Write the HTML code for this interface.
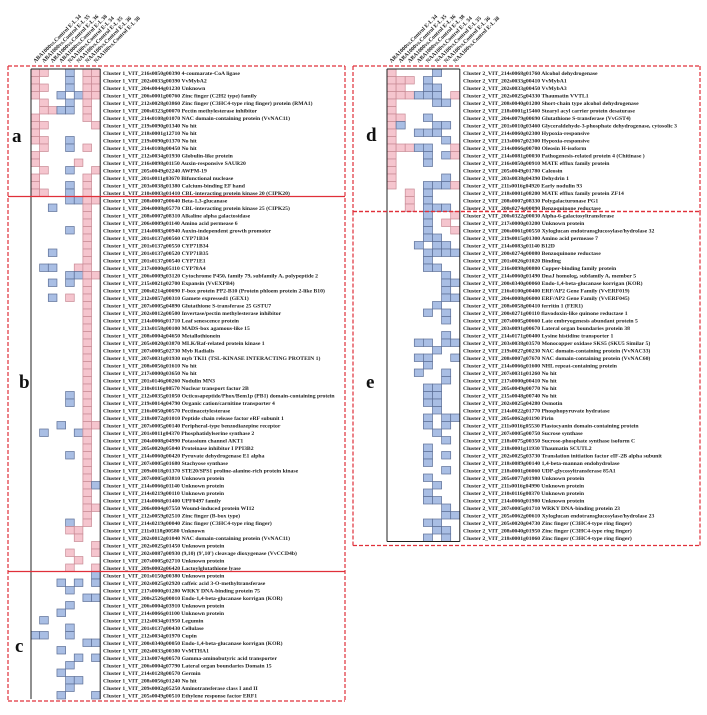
<!DOCTYPE html>
<html><head><meta charset="utf-8"><style>
body{margin:0;background:#fff;width:707px;height:710px;overflow:hidden}
svg text{font-family:"Liberation Serif",serif}
</style></head><body>
<svg id="fig" width="707" height="710" viewBox="0 0 707 710" xmlns="http://www.w3.org/2000/svg"></svg>
<script>
const columns=["ABA1000vs.Control E-L 34","ABA1000vs.Control E-L 35","ABA1000vs.Control E-L 36","ABA1000vs.Control E-L 38","NAA100vs.Control E-L 34","NAA100vs.Control E-L 35","NAA100vs.Control E-L 36","NAA100vs.Control E-L 38"];
const sectionNames=["a","b","c","d","e"];
const aGenes=["216s0050g00390 4-coumarate-CoA ligase","202s0033g00390 VvMybA2","204s0044g01230 Unknown","206s0001g00760 Zinc finger (C2H2 type) family","212s0028g03860 Zinc finger (C3HC4-type ring finger) protein (RMA1)","200s0323g00070 Pectin methylesterase inhibitor","214s0108g01070 NAC domain-containing protein (VvNAC11)","219s0090g01340 No hit","218s0001g12710 No hit","219s0090g01370 No hit","214s0108g00450 No hit","212s0034g01930 Globulin-like protein","216s0098g01150 Auxin-responsive SAUR20","205s0049g02240 AWPM-19","201s0011g03670 Bifunctional nuclease","203s0038g01380 Calcium-binding EF hand","210s0003g01410 CBL-interacting protein kinase 20 (CIPK20)"];
const aVals=["pp..b.pp","p...b.pp","pp..b.pp","p..b.bpp",".p..b.p.",".ppbb.p.","p.....p.","pp.....p","p.......","pp..b...",".p..b.p.","p.......","p....p..",".p..b..p","p.....p.","p...b.p.","pp..b.p."];
const bGenes=["208s0007g00640 Beta-1,3-glucanase","204s0008g05770 CBL-interacting protein kinase 25 (CIPK25)","208s0007g08310 Alkaline alpha galactosidase","206s0009g01140 Amino acid permease 6","214s0083g00940 Auxin-independent growth promoter","201s0137g00560 CYP71B34","201s0137g00550 CYP71B34","201s0137g00520 CYP71B35","201s0137g00540 CYP71E1","217s0000g05110 CYP78A4","206s0009g03120 Cytochrome P450, family 79, subfamily A, polypeptide 2","215s0021g02700 Expansin (VvEXPB4)","200s0214g00090 F-box protein PP2-B10 (Protein phloem protein 2-like B10)","212s0057g00310 Gamete expressed1 (GEX1)","207s0005g04890 Glutathione S-transferase 25 GSTU7","202s0012g00500 Invertase/pectin methylesterase inhibitor","214s0066g01710 Leaf senescence protein","213s0158g00100 MADS-box agamous-like 15","208s0004g04650 Metallothionein","205s0020g03870 MLK/Raf-related protein kinase 1","207s0005g02730 Myb Radialis","207s0031g01930 myb TKI1 (TSL-KINASE INTERACTING PROTEIN 1)","208s0056g01610 No hit","217s0000g03650 No hit","201s0146g00260 Nodulin MN3","210s0116g00570 Nuclear transport factor 2B","212s0035g01050 Octicosapeptide/Phox/Bem1p (PB1) domain-containing protein","219s0014g04790 Organic cation/carnitine transporter 4","216s0050g00570 Pectinacetylesterase","218s0072g01010 Peptide chain release factor eRF subunit 1","207s0005g00140 Peripheral-type benzodiazepine receptor","201s0011g04370 Phosphatidylserine synthase 2","204s0008g04990 Potassium channel AKT1","205s0020g05040 Proteinase inhibitor I PPI3B2","214s0060g00420 Pyruvate dehydrogenase E1 alpha","207s0005g01680 Stachyose synthase","209s0018g01370 STE20/SPS1 proline-alanine-rich protein kinase","207s0005g03810 Unknown protein","214s0066g01140 Unknown protein","214s0219g00110 Unknown protein","214s0068g01400 UPF0497 family","206s0004g07550 Wound-induced protein WI12","212s0059g02510 Zinc finger (B-box type)","214s0219g00040 Zinc finger (C3HC4-type ring finger)","211s0118g00580 Unknown","202s0012g01040 NAC domain-containing protein (VvNAC11)","202s0025g01450 Unknown protein","202s0087g00930 (9,10) (9',10') cleavage dioxygenase (VvCCD4b)","207s0005g02710 Unknown protein","209s0002g06420 Lactoylglutathione lyase"];
const bVals=["....bbpp","..b...p.","......p.","......p.","....b.p.","......p.","......p.","..b...p.","......p.",".bb..pp.","....bbpp","..b.b.p.","......p.","..b.p.p.","......p.","......p.","......p.","......p.","......p.","......p.","......p.","......p.","......p.","......p.","......p.","......p.","....b.p.","....b.p.","......p.","......p.","...b..pp",".b...bp.","......p.","......p.","....b.p.","......p.","......p.","......p.","......pb","......p.","......p.","......pp","......p.","....b.p.","....pp..",".....p..",".......p","....p..p",".....p..","....p..p"];
const cGenes=["201s0150g00380 Unknown protein","202s0025g02920 caffeic acid 3-O-methyltransferase","217s0000g01280 WRKY DNA-binding protein 75","200s2526g00010 Endo-1,4-beta-glucanase korrigan (KOR)","206s0004g03910 Unknown protein","214s0066g01100 Unknown protein","212s0034g01950 Legumin","201s0137g00430 Cellulase","212s0034g01970 Cupin","200s0340g00050 Endo-1,4-beta-glucanase korrigan (KOR)","202s0033g00380 VvMTHA1","213s0074g00570 Gamma-aminobutyric acid transporter","206s0004g07790 Lateral organ boundaries Domain 15","214s0128g00570 Germin","208s0056g01240 No hit","209s0002g05250 Aminotransferase class I and II","205s0049g00510 Ethylene response factor ERF1"];
const cVals=[".......b","...b.b.b","....b...","......bb","....b...","...b....",".b......","....b...","bb..b...","......bb","...b....",".....b.b","....b...","...b....","....bb..","....b...","...b...b"];
const dGenes=["214s0068g01760 Alcohol dehydrogenase","202s0033g00410 VvMybA1","202s0033g00450 VvMybA3","202s0025g04330 Thaumatin VVTL1","208s0040g01200 Short-chain type alcohol dehydrogenase","218s0001g15460 Stearyl acyl carrier protein desaturase","204s0079g00690 Glutathione S-transferase (VvGST4)","201s0010g03460 Glyceraldehyde-3-phosphate dehydrogenase, cytosolic 3","214s0060g02300 Hypoxia-responsive","213s0067g02300 Hypoxia-responsive","214s0066g00700 Oleosin H-isoform","214s0081g00030 Pathogenesis-related protein 4 (Chitinase )","216s0050g00910 MATE efflux family protein","205s0049g01780 Caleosin","203s0038g04390 Dehydrin 1","211s0016g04920 Early nodulin 93","218s0001g08200 MATE efflux family protein ZF14","208s0007g08330 Polygalacturonase PG1","200s0274g00090 Benzoquinone reductase"];
const dVals=["p....b..","ppp.b...","pp..bb..","pppbbb.p","p....bb.","p.......","pp..b...","pb...bb.","p..bbb..","p.....b.","pppbb..p","p...b.bp","p...b...","p.......","p.....b.","p...bbbp","..p.b...","..p.b...","..p.bbb."];
const eGenes=["200s0322g00030 Alpha-6-galactosyltransferase","217s0000g03200 Unknown protein","206s0061g00550 Xyloglucan endotransglucosylase/hydrolase 32","219s0015g01300 Amino acid permease 7","214s0083g01140 B12D","200s0274g00080 Benzoquinone reductase","201s0026g01020 Binding","216s0098g00800 Copper-binding family protein","214s0060g01490 DnaJ homolog, subfamily A, member 5","200s0340g00060 Endo-1,4-beta-glucanase korrigan (KOR)","216s0100g00400 ERF/AP2 Gene Family (VvERF019)","204s0008g06000 ERF/AP2 Gene Family (VvERF045)","208s0058g00410 ferritin 1 (FER1)","200s0271g00110 flavodoxin-like quinone reductase 1","207s0005g00660 Late embryogenesis abundant protein 5","203s0091g00670 Lateral organ boundaries protein 38","214s0171g00400 Lysine histidine transporter 1","203s0038g03570 Monocopper oxidase SKS5 (SKU5 Similar 5)","219s0027g00230 NAC domain-containing protein (VvNAC33)","208s0007g07670 NAC domain-containing protein (VvNAC60)","214s0066g01600 NHL repeat-containing protein","207s0031g01260 No hit","217s0000g00410 No hit","205s0049g00770 No hit","215s0048g00740 No hit","202s0025g04280 Osmotin","214s0022g01770 Phosphopyruvate hydratase","205s0062g01190 Pirin","211s0016g05530 Plastocyanin domain-containing protein","207s0005g00750 Sucrose synthase","218s0075g00350 Sucrose-phosphate synthase isoform C","218s0001g11930 Thaumatin SCUTL2","202s0025g03730 Translation initiation factor eIF-2B alpha subunit","218s0089g00140 1,4-beta-mannan endohydrolase","218s0001g06060 UDP-glycosyltransferase 85A1","205s0077g01980 Unknown protein","211s0016g04990 Unknown protein","210s0116g00370 Unknown protein","214s0060g01980 Unknown protein","207s0005g01710 WRKY DNA-binding protein 23","205s0062g00610 Xyloglucan endotransglucosylase/hydrolase 23","205s0020g04730 Zinc finger (C3HC4-type ring finger)","208s0040g01950 Zinc finger (C3HC4-type ring finger)","218s0001g01060 Zinc finger (C3HC4-type ring finger)"];
const eVals=["....b..p","....b.p.","....b..p","....bb..","...b.bb.","....bbbb","....b...","....bb..","......b.","......bb","......b.","......bb",".....b..","....b.b.","......b.","........","......b.","...bb.bb",".....b..","...bb..b","....b...","...b..b.","......b.","....bb..","....bb..","....bb..",".....b..","....b.bb","....b.b.",".....b..","......b.","....b...","....b.b.","....b...","......b.","....b...",".....b..","....b...","....bb..","......b.","......bb","....bb..",".....bb.","....b.b."];

const svg=document.getElementById('fig');
const NS="http://www.w3.org/2000/svg";
function mk(tag,attrs){const e=document.createElementNS(NS,tag);for(const k in attrs)e.setAttribute(k,attrs[k]);svg.appendChild(e);return e;}
const RH=7.5;
function drawSection(genes,vals,cluster,gx,cw,y0,tx,name){
  genes.forEach((g,i)=>{
    const y=y0+i*RH;
    for(let c=0;c<8;c++){
      const v=vals[i][c];
      if(v==='.')continue;
      const r=mk('rect',{x:gx+c*cw,y:y,width:cw,height:RH,fill:v==='p'?'#f5c5ce':'#a9bee4',stroke:v==='p'?'#c88a95':'#5d6f96','stroke-width':0.7});
      
      
    }
    const t=mk('text',{x:tx,y:y+5.9,'font-size':5.7,'font-weight':'bold',fill:'#222'});
    t.textContent='Cluster '+cluster+'_VIT_'+g;
    
    
  });
}
function header(gx,cw,yb,name){
  columns.forEach((c,i)=>{
    const x=gx+cw*i+cw/2;
    const t=mk('text',{x:x,y:yb,'font-size':5.6,'font-weight':'bold',fill:'#222',transform:'rotate(-45 '+x+' '+yb+')'});
    t.textContent=c;
    
    
  });
}
function line(x1,y1,x2,y2,col,w,dash,name){
  const l=mk('line',{x1,y1,x2,y2,stroke:col,'stroke-width':w});
  if(dash)l.setAttribute('stroke-dasharray',dash);
  
  
}
function letter(x,y,s){
  const t=mk('text',{x,y,'font-size':19,'font-weight':'bold',fill:'#111'});
  t.textContent=s;
  
  
}
// left panel
const LG=31,LCW=8.65,LY=69;
drawSection(aGenes,aVals,1,LG,LCW,LY,103,'section-a');
const bY=LY+aGenes.length*RH;
drawSection(bGenes,bVals,1,LG,LCW,bY,103,'section-b');
const cY=bY+bGenes.length*RH;
drawSection(cGenes,cVals,1,LG,LCW,cY,103,'section-c');
const lEnd=cY+cGenes.length*RH;
header(LG,LCW,63,'left');
line(LG,LY,LG,lEnd,'#222',1,null,'left-grid-edge');
line(LG+8*LCW,LY,LG+8*LCW,lEnd,'#222',1,null,'left-grid-edge');
line(LG,LY,LG+8*LCW,LY,'#222',1,null,'left-grid-top');
// dashed boxes
const red='#e0303a';
function box(x1,y1,x2,y2,name){
  line(x1,y1,x2,y1,red,1.2,'4,2',name);line(x1,y2,x2,y2,red,1.2,'4,2',name);
  line(x1,y1,x1,y2,red,1.2,'4,2',name);line(x2,y1,x2,y2,red,1.2,'4,2',name);
}
box(8,LY-3,345,lEnd+2,'left-cluster-box');
line(8,bY,345,bY,red,1.3,null,'divider-a-b');
line(8,cY,345,cY,red,1.3,null,'divider-b-c');
letter(12,142,'a');letter(19,388,'b');letter(15,652,'c');
// right panel
const RG=387,RCW=9.1,RY=69;
drawSection(dGenes,dVals,2,RG,RCW,RY,463,'section-d');
const eY=RY+dGenes.length*RH;
drawSection(eGenes,eVals,2,RG,RCW,eY,463,'section-e');
const rEnd=eY+eGenes.length*RH;
header(RG,RCW,63,'right');
line(RG,RY,RG,rEnd,'#222',1,null,'right-grid-edge');
line(RG+8*RCW,RY,RG+8*RCW,rEnd,'#222',1,null,'right-grid-edge');
line(RG,RY,RG+8*RCW,RY,'#222',1,null,'right-grid-top');
line(RG,rEnd,RG+8*RCW,rEnd,'#222',1,null,'right-grid-bottom');
box(353,RY-3,700,eY,'cluster-d-box');
box(353,eY,700,rEnd+4,'cluster-e-box');
letter(366,141,'d');letter(366,388,'e');
</script>
</body></html>
